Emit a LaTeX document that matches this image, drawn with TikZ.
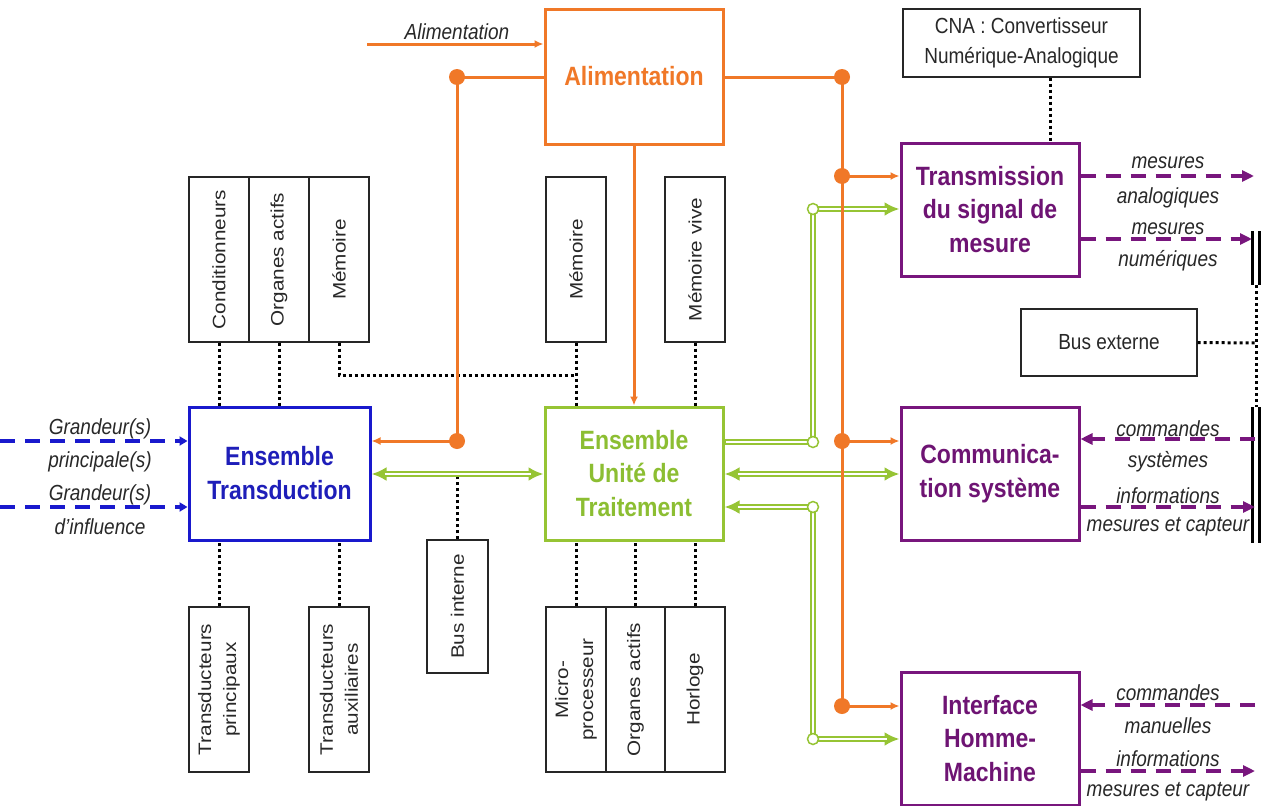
\documentclass[tikz,border=0pt]{standalone}
\usepackage{fontspec}
\setmainfont{Liberation Sans}
\usetikzlibrary{arrows.meta}
\definecolor{orC}{RGB}{240,120,40}
\definecolor{blC}{RGB}{25,25,205}
\definecolor{blT}{RGB}{30,30,185}
\definecolor{grC}{RGB}{150,196,52}
\definecolor{grT}{RGB}{140,190,50}
\definecolor{puC}{RGB}{120,22,125}
\definecolor{puT}{RGB}{110,20,115}
\definecolor{txC}{RGB}{40,40,40}
\begin{document}
\begin{tikzpicture}[x=1pt,y=-1pt,
  blk/.style={draw=black!85, line width=1.4pt, rectangle, inner sep=0pt},
  cbox/.style={draw=#1, line width=3pt, rectangle, inner sep=0pt},
  bigt/.style={font=\fontsize{23}{29.5}\selectfont\bfseries, align=center, yscale=1.15, inner sep=0pt, text=#1},
  vlab/.style={font=\fontsize{18}{25}\selectfont, align=center, yscale=1.15, rotate=90, inner sep=0pt, text=txC},
  hlab/.style={font=\fontsize{19}{26}\selectfont, align=center, yscale=1.15, inner sep=0pt, text=txC},
  lab/.style={font=\fontsize{19}{22}\selectfont\itshape, yscale=1.15, inner sep=0pt, text=txC},
  oline/.style={draw=orC, line width=3pt, >={Latex[length=9pt,width=8pt]}},
  odot/.style={circle, fill=orC, minimum size=16pt, inner sep=0pt},
  gout/.style={draw=grC, line width=6pt, >={Latex[length=15pt,width=14pt]}},
  gin/.style={draw=white, line width=2.8pt},
  gcirc/.style={circle, draw=grC, line width=1.5pt, fill=white, minimum size=11pt, inner sep=0pt},
  pline/.style={draw=puC, line width=3.5pt, dash pattern=on 15pt off 10pt, >={Triangle[length=12pt,width=11pt]}},
  bline/.style={draw=blC, line width=3.5pt, dash pattern=on 15pt off 10pt, >={Triangle[length=8pt,width=9pt]}},
  dotl/.style={draw=black, line width=3pt, dash pattern=on 3pt off 3pt},
]
\path[use as bounding box, fill=white] (0,0) rectangle (1262,806);
% coloured boxes
\node[cbox=orC, minimum width=178pt, minimum height=135pt] (Alim) at (634,76.5) {};
\node[cbox=blC, minimum width=181pt, minimum height=133pt] (ET) at (279.5,473.5) {};
\node[cbox=grC, minimum width=178pt, minimum height=133pt] (EU) at (634,473.5) {};
\node[cbox=puC, minimum width=178pt, minimum height=133pt] (Trans) at (990,209.5) {};
\node[cbox=puC, minimum width=178pt, minimum height=133pt] (Comm) at (990,473.5) {};
\node[cbox=puC, minimum width=178pt, minimum height=133pt] (IHM) at (990,738.5) {};
% black boxes
\node[blk, minimum width=237pt, minimum height=68pt] (CNA) at (1021.5,43) {};
\node[blk, minimum width=176pt, minimum height=67pt] (BusExt) at (1109,342.5) {};
\node[blk, minimum width=61pt, minimum height=133pt] (BI) at (457.5,606.5) {};
\foreach \n/\x in {C1/219,C2/279,C3/339,M2/576,MV/695}
  \node[blk, minimum width=60pt, minimum height=165pt] (\n) at (\x,259.5) {};
\foreach \n/\x in {TP/219,TA/339,P1/576,P3/695}
  \node[blk, minimum width=60pt, minimum height=165pt] (\n) at (\x,689.5) {};
\node[blk, minimum width=59pt, minimum height=165pt] (P2) at (635.5,689.5) {};
% texts in boxes
\node[bigt=orC] (tAlim) at (Alim) {Alimentation};
\node[bigt=blT] (tET) at (ET) {Ensemble\\Transduction};
\node[bigt=grT] (tEU) at (EU) {Ensemble\\Unité de\\Traitement};
\node[bigt=puT] (tTrans) at (Trans) {Transmission\\du signal de\\mesure};
\node[bigt=puT] (tComm) at (Comm) {Communica-\\tion système};
\node[bigt=puT] (tIHM) at (IHM) {Interface\\Homme-\\Machine};
\node[hlab] (tCNA) at (CNA) {CNA : Convertisseur\\Numérique-Analogique};
\node[hlab] (tBusExt) at (BusExt) {Bus externe};
\node[vlab] (tBI) at (BI) {Bus interne};
\node[vlab] (tC1) at (C1) {Conditionneurs};
\node[vlab] (tC2) at (C2) {Organes actifs};
\node[vlab] (tC3) at (C3) {Mémoire};
\node[vlab] (tM2) at (M2) {Mémoire};
\node[vlab] (tMV) at (MV) {Mémoire vive};
\node[vlab] (tTP) at (TP) {Transducteurs\\principaux};
\node[vlab] (tTA) at (TA) {Transducteurs\\auxiliaires};
\node[vlab] (tP1) at (P1) {Micro-\\processeur};
\node[vlab] (tP2) at (P2) {Organes actifs};
\node[vlab] (tP3) at (P3) {Horloge};
% connector labels
\node[lab] (lA) at (457,32) {Alimentation};
\node[lab] (lG1) at (100,429) {Grandeur(s)};
\node[lab] (lG2) at (100,462) {principale(s)};
\node[lab] (lG3) at (100,495) {Grandeur(s)};
\node[lab] (lG4) at (100,527) {d'influence};
\node[lab] (lT1) at (1168,163) {mesures};
\node[lab] (lT2) at (1168,198) {analogiques};
\node[lab] (lT3) at (1168,229) {mesures};
\node[lab] (lT4) at (1168,261) {numériques};
\node[lab] (lC1) at (1168,429) {commandes};
\node[lab] (lC2) at (1168,462) {systèmes};
\node[lab] (lC3) at (1168,496) {informations};
\node[lab] (lC4) at (1168,527) {mesures et capteur};
\node[lab] (lI1) at (1168,693) {commandes};
\node[lab] (lI2) at (1168,726) {manuelles};
\node[lab] (lI3) at (1168,759) {informations};
\node[lab] (lI4) at (1168,792) {mesures et capteur};
% dotted links
\draw[dotl] (C1.south) -- (C1.south |- ET.north);
\draw[dotl] (C2.south) -- (C2.south |- ET.north);
\coordinate (mj) at (576,375);
\draw[dotl] (C3.south) -- (C3.south |- mj) -- (mj);
\draw[dotl] (M2.south) -- (M2.south |- EU.north);
\draw[dotl] (MV.south) -- (MV.south |- EU.north);
\draw[dotl] (TP.north) -- (TP.north |- ET.south);
\draw[dotl] (TA.north) -- (TA.north |- ET.south);
\draw[dotl] (P1.north) -- (P1.north |- EU.south);
\draw[dotl] (P2.north) -- (P2.north |- EU.south);
\draw[dotl] (P3.north) -- (P3.north |- EU.south);
\coordinate (bij) at (457.5,475);
\draw[dotl] (BI.north) -- (bij);
\coordinate (cq) at ([xshift=28.5pt]CNA.south);
\draw[dotl] (cq) -- (cq |- Trans.north);
\coordinate (bx) at (1256,343);
\draw[dotl] (BusExt.east) -- (bx);
\coordinate (bu1) at (1256,285);
\coordinate (bu2) at (1256,407);
\draw[dotl] (bu1) -- (bu2);
% external bus bars
\draw[line width=3pt] (1252.5,231) -- (1252.5,285);
\draw[line width=2.4pt] (1259.5,231) -- (1259.5,285);
\draw[line width=3pt] (1252.5,407) -- (1252.5,543);
\draw[line width=2.4pt] (1259.5,407) -- (1259.5,543);
% green double links
\coordinate (g1) at (813,442);
\coordinate (g2) at (813,209);
\coordinate (g3) at (813,507);
\coordinate (g4) at (813,739);
\coordinate (g5) at (813,474);
\draw[gout, ->] (g1 -| EU.east) -- (g1) -- (g2) -- (g2 -| Trans.west);
\draw[gin, shorten <=1.5pt, shorten >=13pt] (g1 -| EU.east) -- (g1) -- (g2) -- (g2 -| Trans.west);
\draw[gout, <->] (g3 -| EU.east) -- (g3) -- (g4) -- (g4 -| IHM.west);
\draw[gin, shorten <=13pt, shorten >=13pt] (g3 -| EU.east) -- (g3) -- (g4) -- (g4 -| IHM.west);
\draw[gout, <->] (g5 -| EU.east) -- (g5 -| Comm.west);
\draw[gin, shorten <=13pt, shorten >=13pt] (g5 -| EU.east) -- (g5 -| Comm.west);
\draw[gout, <->] (g5 -| ET.east) -- (g5 -| EU.west);
\draw[gin, shorten <=13pt, shorten >=13pt] (g5 -| ET.east) -- (g5 -| EU.west);
\foreach \k in {1,...,4} \node[gcirc] (c\k) at (g\k) {};
% orange power links
\coordinate (j1) at (457,77);
\coordinate (j2) at (457,441);
\coordinate (j3) at (842,77);
\coordinate (j4) at (842,176);
\coordinate (j5) at (842,441);
\coordinate (j6) at (842,706);
\coordinate (ain) at (367,44);
\draw[oline, ->] (ain) -- (ain -| Alim.west);
\draw[oline] (j1 -| Alim.west) -- (j1) -- (j2);
\draw[oline, ->] (j2) -- (j2 -| ET.east);
\draw[oline] (j3 -| Alim.east) -- (j3) -- (j6);
\draw[oline, ->] (j4) -- (j4 -| Trans.west);
\draw[oline, ->] (j5) -- (j5 -| Comm.west);
\draw[oline, ->] (j6) -- (j6 -| IHM.west);
\draw[oline, ->] (Alim.south) -- (EU.north);
\foreach \k in {1,...,6} \node[odot] (d\k) at (j\k) {};
% purple signal links
\coordinate (pa) at (1254,176);
\coordinate (pb) at (1252,239);
\coordinate (pc) at (1255,439);
\coordinate (pd) at (1255,507);
\coordinate (pe) at (1255,705);
\coordinate (pf) at (1255,771);
\draw[pline, ->] (pa -| Trans.east) -- (pa);
\draw[pline, ->] (pb -| Trans.east) -- (pb);
\draw[pline, ->] (pc) -- (pc -| Comm.east);
\draw[pline, ->] (pd -| Comm.east) -- (pd);
\draw[pline, ->] (pe) -- (pe -| IHM.east);
\draw[pline, ->] (pf -| IHM.east) -- (pf);
% blue input links
\coordinate (ga) at (0,441);
\coordinate (gb) at (0,507);
\draw[bline, ->] (ga) -- (ga -| ET.west);
\draw[bline, ->] (gb) -- (gb -| ET.west);
\end{tikzpicture}
\end{document}
